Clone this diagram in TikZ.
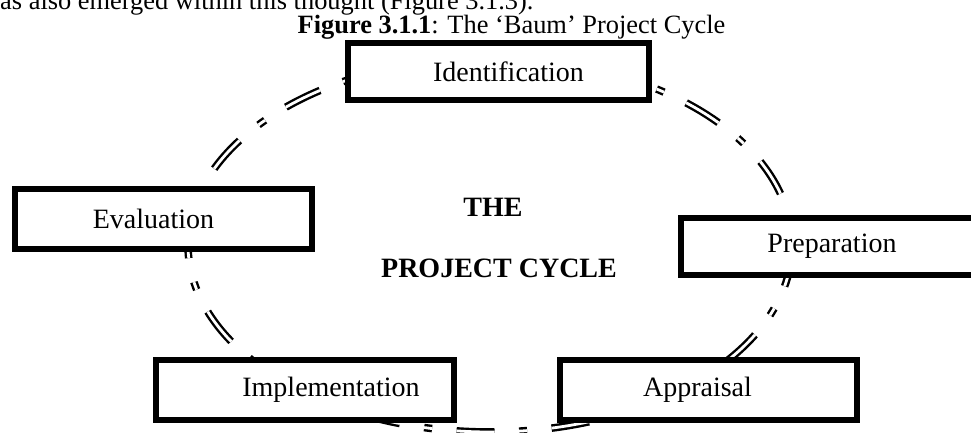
\documentclass[tikz,border=0pt]{standalone}
\usepackage{fontspec}
\setmainfont{Liberation Serif}
\begin{document}
\begin{tikzpicture}[x=1pt, y=1pt,
        cyclebox/.style={draw=black, line width=6pt, fill=white, inner sep=0pt},
        steplabel/.style={font=\fontsize{28}{30}\selectfont},
        midtext/.style={font=\bfseries\fontsize{28}{30}\selectfont},
        ring/.style={double, line width=2.4pt, double distance=2.8pt,
            dash pattern=on 38pt off 24.6pt on 8pt off 24.6pt, dash phase=16.2pt}]
            \useasboundingbox (0, 0) rectangle (971, -432);
            \node[anchor=base west, inner sep=0pt, font=\fontsize{26.4}{28}\selectfont] (intro) at (-13.2, -9) {has also emerged within this thought (Figure 3.1.3).};
            \node[anchor=base, inner sep=0pt, font=\fontsize{26.4}{28}\selectfont] (title) at (511.5, -33) {\textbf{Figure 3.1.1}: The ‘Baum’ Project Cycle};
            % the cycle behind the boxes, started at the top
            \draw[ring] (490, -58) arc[start angle=90, end angle=450, x radius=302, y radius=187];
            \node[cyclebox, minimum width=301pt, minimum height=57pt, label={[steplabel, xshift=10pt]center:Identification}] (ident) at (498.5, -71.5) {};
            \node[cyclebox, minimum width=300pt, minimum height=57pt, label={[steplabel, xshift=1pt]center:Preparation}] (prep) at (831, -246.5) {};
            \node[cyclebox, minimum width=297pt, minimum height=60pt, label={[steplabel, xshift=-11pt]center:Appraisal}] (appr) at (708.5, -390) {};
            \node[cyclebox, minimum width=298pt, minimum height=60pt, label={[steplabel, xshift=26pt]center:Implementation}] (impl) at (305, -390) {};
            \node[cyclebox, minimum width=297pt, minimum height=60pt, label={[steplabel, xshift=-10pt]center:Evaluation}] (eval) at (163.5, -219) {};
            % middle text
            \node[midtext] (the) at (493, -207) {THE};
            \node[midtext] (cycle) at (499, -268) {PROJECT CYCLE};
        \end{tikzpicture}
\end{document}
